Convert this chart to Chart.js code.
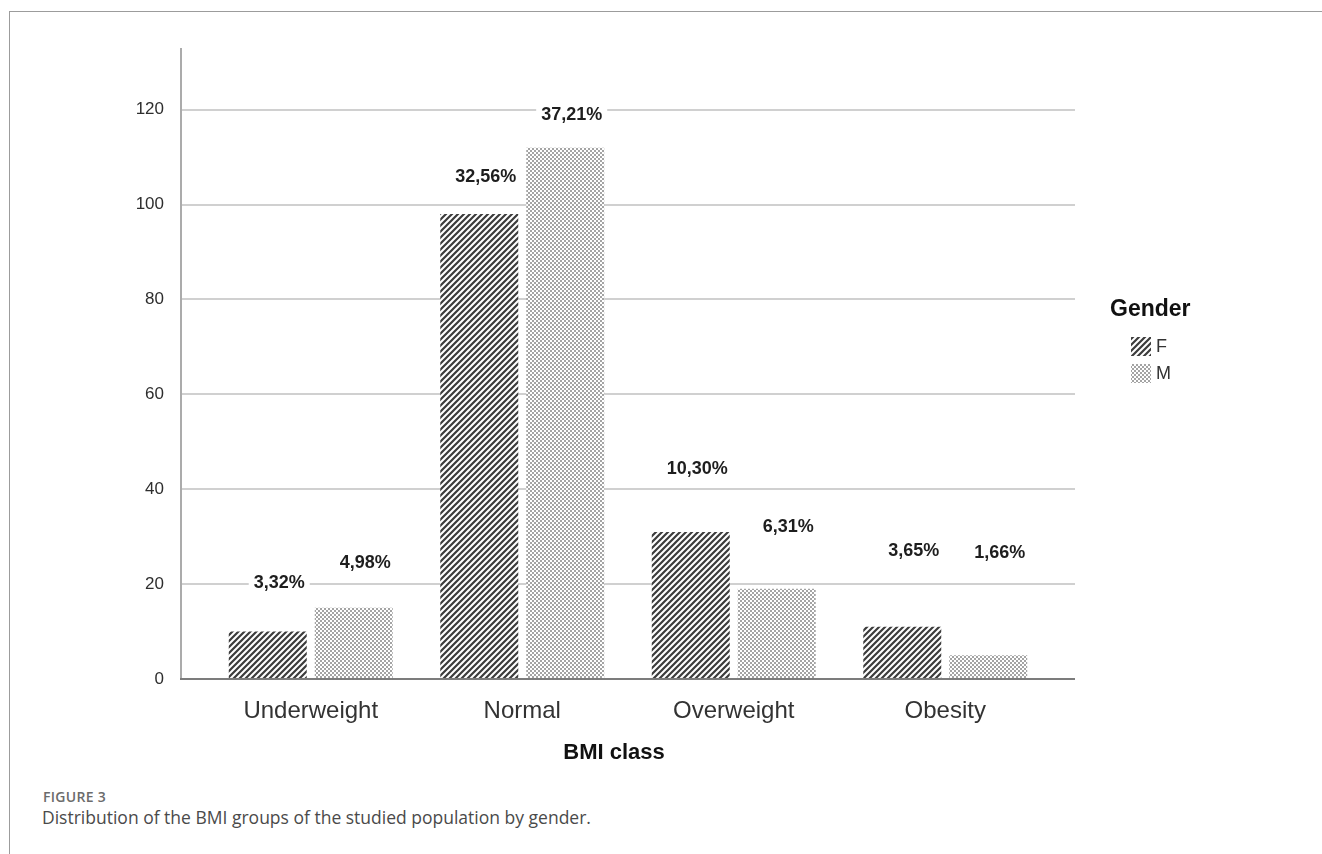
<!DOCTYPE html>
<html>
<head>
<meta charset="utf-8">
<script src="https://cdn.jsdelivr.net/npm/chart.js@4.4.0/dist/chart.umd.min.js"></script>
<style>
  html, body { margin: 0; padding: 0; background: #fff; }
  body { width: 1322px; height: 854px; position: relative; overflow: hidden; }
  .frame { position: absolute; left: 9px; top: 11px; right: -5px; bottom: -5px;
           border-left: 1px solid #9c9c9c; border-top: 1px solid #9c9c9c; }
  #wrap { position: absolute; left: 0; top: 0; width: 1322px; height: 770px; }
  .cap1 { position: absolute; left: 43px; top: 787px; font: 600 14px "Open Sans"; color: #6b6b6b; letter-spacing: 0.3px; }
  .cap2 { position: absolute; left: 42px; top: 805px; font: 17.5px "Open Sans"; color: #4a4a4a; }
</style>
</head>
<body>
<div class="frame"></div>
<div id="wrap"><canvas id="bmi"></canvas></div>
<div class="cap1">FIGURE 3</div>
<div class="cap2">Distribution of the BMI groups of the studied population by gender.</div>
<script>
// data (counts, N = 301)
const categories = ['Underweight', 'Normal', 'Overweight', 'Obesity'];
const femaleCounts = [10, 98, 31, 11];
const maleCounts = [15, 112, 19, 5];
const femaleLabels = ['3,32%', '32,56%', '10,30%', '3,65%'];
const maleLabels = ['4,98%', '37,21%', '6,31%', '1,66%'];
// where the percent labels sit, in axis units
const femaleLabelAt = [20.2, 105.7, 44.3, 27.0];
const maleLabelAt = [24.5, 118.9, 32.1, 26.6];
const yTicks = [0, 20, 40, 60, 80, 100, 120];
const yMax = 133;

Chart.defaults.font.family = '"Liberation Sans", Arial, sans-serif';

function hatchPattern() {
  const c = document.createElement('canvas');
  c.width = 6; c.height = 6;
  const g = c.getContext('2d');
  g.fillStyle = '#fff';
  g.fillRect(0, 0, 6, 6);
  g.strokeStyle = '#3c3c3c';
  g.lineWidth = 2.2;
  g.beginPath();
  g.moveTo(-1, 7); g.lineTo(7, -1);
  g.moveTo(-4, 4); g.lineTo(4, -4);
  g.moveTo(2, 10); g.lineTo(10, 2);
  g.stroke();
  return g.createPattern(c, 'repeat');
}

function dotPattern() {
  const c = document.createElement('canvas');
  c.width = 4; c.height = 4;
  const g = c.getContext('2d');
  g.fillStyle = '#fff';
  g.fillRect(0, 0, 4, 4);
  g.fillStyle = '#a4a4a4';
  g.fillRect(0, 0, 2, 2);
  g.fillRect(2, 2, 2, 2);
  return g.createPattern(c, 'repeat');
}

const fFill = hatchPattern();
const mFill = dotPattern();
const labelSets = [
  { text: femaleLabels, at: femaleLabelAt },
  { text: maleLabels, at: maleLabelAt }
];

// axis lines + gridlines run a bit past the category band, like SPSS
const axesPlugin = {
  id: 'axesPlugin',
  beforeDatasetsDraw(chart) {
    const { ctx, chartArea, scales: { y } } = chart;
    const x0 = chartArea.left - 24, x1 = chartArea.right + 24;
    ctx.save();
    ctx.lineWidth = 2;
    ctx.strokeStyle = '#d0d0d0';
    yTicks.forEach(v => {
      if (v === 0) return;
      const py = Math.round(y.getPixelForValue(v));
      ctx.beginPath(); ctx.moveTo(x0, py); ctx.lineTo(x1, py); ctx.stroke();
    });
    ctx.strokeStyle = '#ababab';
    ctx.beginPath();
    ctx.moveTo(x0, chartArea.top);
    ctx.lineTo(x0, chartArea.bottom);
    ctx.stroke();
    ctx.restore();
  },
  afterDatasetsDraw(chart) {
    const { ctx, chartArea, scales: { y } } = chart;
    const x0 = chartArea.left - 25, x1 = chartArea.right + 24;
    ctx.save();
    ctx.lineWidth = 2;
    ctx.strokeStyle = '#7c7c7c';
    ctx.beginPath();
    ctx.moveTo(x0, chartArea.bottom);
    ctx.lineTo(x1, chartArea.bottom);
    ctx.stroke();

    // percent labels, right aligned to the bar, white box cuts the gridline
    ctx.font = 'bold 18px "Liberation Sans", Arial, sans-serif';
    ctx.textBaseline = 'middle';
    ctx.textAlign = 'right';
    labelSets.forEach((set, i) => {
      const meta = chart.getDatasetMeta(i);
      meta.data.forEach((bar, j) => {
        const xr = bar.x + bar.width / 2 - 2;
        const py = y.getPixelForValue(set.at[j]);
        const w = ctx.measureText(set.text[j]).width;
        ctx.fillStyle = '#fff';
        ctx.fillRect(xr - w - 5, py - 9, w + 10, 18);
        ctx.fillStyle = '#1e1e1e';
        ctx.fillText(set.text[j], xr, py);
      });
    });
    ctx.restore();
  },
  afterDraw(chart) {
    const { ctx } = chart;
    ctx.save();
    ctx.fillStyle = '#111';
    ctx.textBaseline = 'middle';
    ctx.font = 'bold 22px "Liberation Sans", Arial, sans-serif';
    ctx.textAlign = 'center';
    ctx.fillText('BMI class', 614, 753);
    // legend
    ctx.textAlign = 'left';
    ctx.font = 'bold 23px "Liberation Sans", Arial, sans-serif';
    ctx.fillText('Gender', 1110, 310);
    ctx.fillStyle = fFill;
    ctx.fillRect(1131, 337, 20, 19);
    ctx.fillStyle = mFill;
    ctx.fillRect(1131, 364, 20, 19);
    ctx.fillStyle = '#333';
    ctx.font = '18px "Liberation Sans", Arial, sans-serif';
    ctx.fillText('F', 1156, 347);
    ctx.fillText('M', 1156, 374);
    ctx.restore();
  }
};

new Chart(document.getElementById('bmi'), {
  type: 'bar',
  data: {
    labels: categories,
    datasets: [
      { label: 'F', data: femaleCounts, backgroundColor: fFill, borderWidth: 0 },
      { label: 'M', data: maleCounts, backgroundColor: mFill, borderWidth: 0 }
    ]
  },
  options: {
    responsive: true,
    maintainAspectRatio: false,
    animation: false,
    categoryPercentage: 0.813,
    barPercentage: 0.907,
    layout: { padding: { left: 0, right: 271, top: 48, bottom: 31 } },
    plugins: { legend: { display: false }, tooltip: { enabled: false } },
    scales: {
      x: {
        grid: { display: false },
        border: { display: false },
        ticks: { color: '#333', font: { size: 24 }, padding: 10 },
        afterFit(scale) { scale.height = 60; }
      },
      y: {
        min: 0,
        max: yMax,
        grid: { display: false },
        border: { display: false },
        ticks: { color: '#2e2e2e', font: { size: 17 }, padding: 33, includeBounds: false },
        afterBuildTicks(scale) { scale.ticks = yTicks.map(v => ({ value: v })); },
        afterFit(scale) { scale.width = 205; }
      }
    }
  },
  plugins: [axesPlugin]
});
</script>
</body>
</html>
